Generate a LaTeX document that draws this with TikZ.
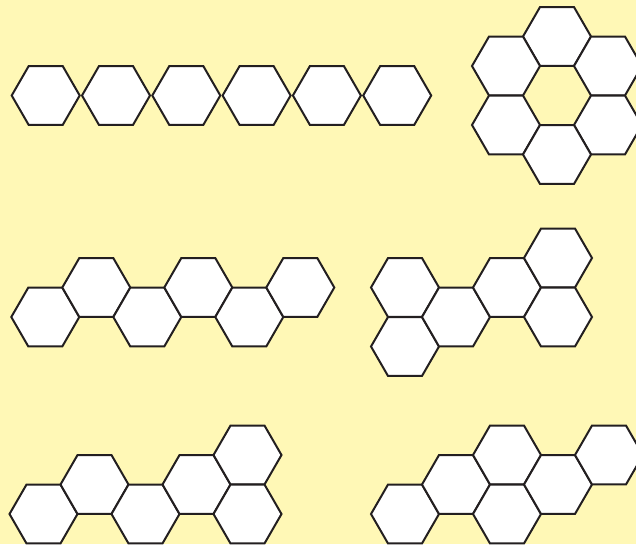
\documentclass[tikz,border=0pt]{standalone}
\usetikzlibrary{shapes.geometric}
\definecolor{bgyellow}{RGB}{255,248,182}
\definecolor{hexline}{RGB}{35,31,32}
\tikzset{
  hex/.style={regular polygon, regular polygon sides=6, minimum size=68pt,
    inner sep=0pt, outer sep=0pt, draw=hexline, fill=white, line width=2pt}
}
\begin{document}
\begin{tikzpicture}[x=1pt,y=-1pt]
\fill[bgyellow] (0,0) rectangle (636,544);
\useasboundingbox (0,0) rectangle (636,544);
\begin{scope}
\clip (0,0) rectangle (636,544);
% row 1: six in a line
\foreach \i in {0,...,5} {
  \node[hex] (a\i) at ({45.7+70.3*\i},95.5) {};
}
% ring
\node[hex] (b1) at (557,36.5) {};
\node[hex] (b2) at (506,66) {};
\node[hex] (b3) at (608,66) {};
\node[hex] (b4) at (506,125) {};
\node[hex] (b5) at (608,125) {};
\node[hex] (b6) at (557,154.5) {};
% row 2 left
\node[hex] (c1) at (45.3,317) {};
\node[hex] (c2) at (96.3,287.5) {};
\node[hex] (c3) at (147.3,317) {};
\node[hex] (c4) at (198.3,287.5) {};
\node[hex] (c5) at (249.3,317) {};
\node[hex] (c6) at (300.3,287.5) {};
% row 2 right
\node[hex] (d1) at (405,287.5) {};
\node[hex] (d2) at (405,346.5) {};
\node[hex] (d3) at (456,317) {};
\node[hex] (d4) at (507,287.5) {};
\node[hex] (d5) at (558,258) {};
\node[hex] (d6) at (558,317) {};
% row 3 left
\node[hex] (e1) at (43.5,514) {};
\node[hex] (e2) at (94.5,484.5) {};
\node[hex] (e3) at (145.5,514) {};
\node[hex] (e4) at (196.5,484.5) {};
\node[hex] (e5) at (247.5,455) {};
\node[hex] (e6) at (247.5,514) {};
% row 3 right
\node[hex] (f1) at (405,514) {};
\node[hex] (f2) at (456,484.5) {};
\node[hex] (f3) at (507,455) {};
\node[hex] (f4) at (507,514) {};
\node[hex] (f5) at (558,484.5) {};
\node[hex] (f6) at (609,455) {};
\end{scope}
\end{tikzpicture}
\end{document}
